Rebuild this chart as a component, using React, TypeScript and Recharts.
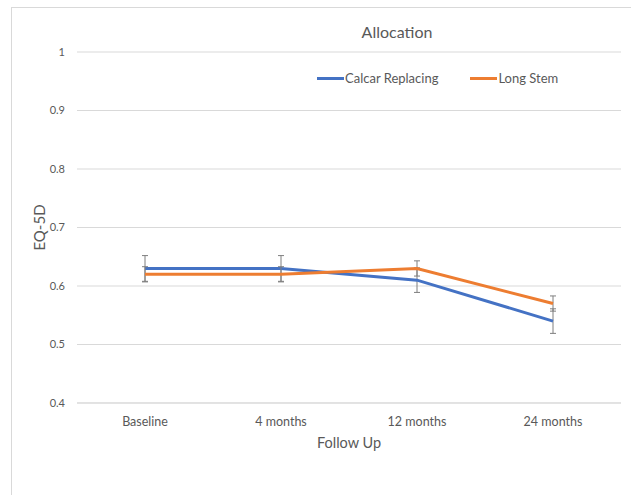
import React from 'react';
import { LineChart, Line, XAxis, YAxis, CartesianGrid, ErrorBar, Legend, Label } from 'recharts';

const categories = ['Baseline', '4 months', '12 months', '24 months'];
const calcarValues = [0.63, 0.63, 0.61, 0.54];
const calcarErrors = [0.022, 0.022, 0.021, 0.021];
const longStemValues = [0.62, 0.62, 0.63, 0.57];
const longStemErrors = [0.013, 0.013, 0.013, 0.013];
const yTicks = [0.4, 0.5, 0.6, 0.7, 0.8, 0.9, 1];
const seriesNames = ['Calcar Replacing', 'Long Stem'];

const data = categories.map((c, i) => ({
  category: c,
  calcar: calcarValues[i],
  calcarErr: calcarErrors[i],
  longStem: longStemValues[i],
  longStemErr: longStemErrors[i],
}));

const FONT = 'Lato, "Open Sans", sans-serif';
const TEXT = '#595959';
const GRID = '#d9d9d9';

const renderLegend = (props: any) => {
  const { payload } = props;
  return (
    <div style={{ display: 'flex', fontFamily: FONT, fontSize: 13, color: TEXT, lineHeight: '16px' }}>
      {(payload || []).map((p: any, i: number) => (
        <div key={i} style={{ display: 'flex', alignItems: 'center', marginRight: i === 0 ? 32 : 0 }}>
          <span style={{ display: 'inline-block', width: 27, height: 3, background: p.color }} />
          <span style={{ marginLeft: 1 }}>{p.value}</span>
        </div>
      ))}
    </div>
  );
};

export default function App() {
  return (
    <div style={{ position: 'fixed', left: 0, top: 0, width: 631, height: 495, overflow: 'hidden', background: '#fff' }}>
      <div style={{ position: 'absolute', left: 11, top: 7, width: 700, height: 600, border: `1px solid ${GRID}` }} />
      <div style={{ position: 'absolute', left: 0, top: 0 }}>
        <LineChart width={631} height={495} data={data} margin={{ top: 52, right: 10, bottom: 0, left: 0 }}>
          <CartesianGrid vertical={false} stroke={GRID} strokeWidth={1} />
          <XAxis
            dataKey="category"
            axisLine={{ stroke: GRID }}
            tickLine={false}
            tickMargin={8}
            height={92}
            interval={0}
            padding={{ left: 68, right: 68 }}
            tick={{ fill: TEXT, fontSize: 12.5, fontFamily: FONT }}
          >
            <Label
              content={(props: any) => {
                const vb = props.viewBox;
                return (
                  <text x={vb.x + vb.width / 2} y={442} textAnchor="middle" dominantBaseline="central" fill={TEXT} fontSize={14.5} fontFamily={FONT}>
                    Follow Up
                  </text>
                );
              }}
            />
          </XAxis>
          <YAxis
            domain={[0.4, 1]}
            ticks={yTicks}
            width={77}
            axisLine={false}
            tickLine={false}
            tickMargin={6}
            tick={{ fill: TEXT, fontSize: 11, fontFamily: FONT }}
          >
            <Label
              content={(props: any) => {
                const vb = props.viewBox;
                const cx = 39;
                const cy = vb.y + vb.height / 2;
                return (
                  <text x={cx} y={cy} transform={`rotate(-90 ${cx} ${cy})`} textAnchor="middle" dominantBaseline="central" fill={TEXT} fontSize={15} fontFamily={FONT}>
                    EQ-5D
                  </text>
                );
              }}
            />
          </YAxis>
          <Legend
            verticalAlign="middle"
            align="center"
            layout="horizontal"
            content={renderLegend}
            wrapperStyle={{ top: 70, left: 317, width: 300 }}
          />
          <Line
            type="linear"
            dataKey="calcar"
            name={seriesNames[0]}
            stroke="#4472C4"
            strokeWidth={3}
            dot={false}
            activeDot={false}
            isAnimationActive={false}
          >
            <ErrorBar dataKey="calcarErr" width={3} stroke="#7f7f7f" strokeWidth={1} direction="y" />
          </Line>
          <Line
            type="linear"
            dataKey="longStem"
            name={seriesNames[1]}
            stroke="#ED7D31"
            strokeWidth={3}
            dot={false}
            activeDot={false}
            isAnimationActive={false}
          >
            <ErrorBar dataKey="longStemErr" width={3} stroke="#7f7f7f" strokeWidth={1} direction="y" />
          </Line>
        </LineChart>
      </div>
      <div style={{ position: 'absolute', left: 297, width: 200, top: 22, textAlign: 'center', fontFamily: FONT, fontSize: 16, color: TEXT, lineHeight: '20px' }}>
        Allocation
      </div>
    </div>
  );
}
